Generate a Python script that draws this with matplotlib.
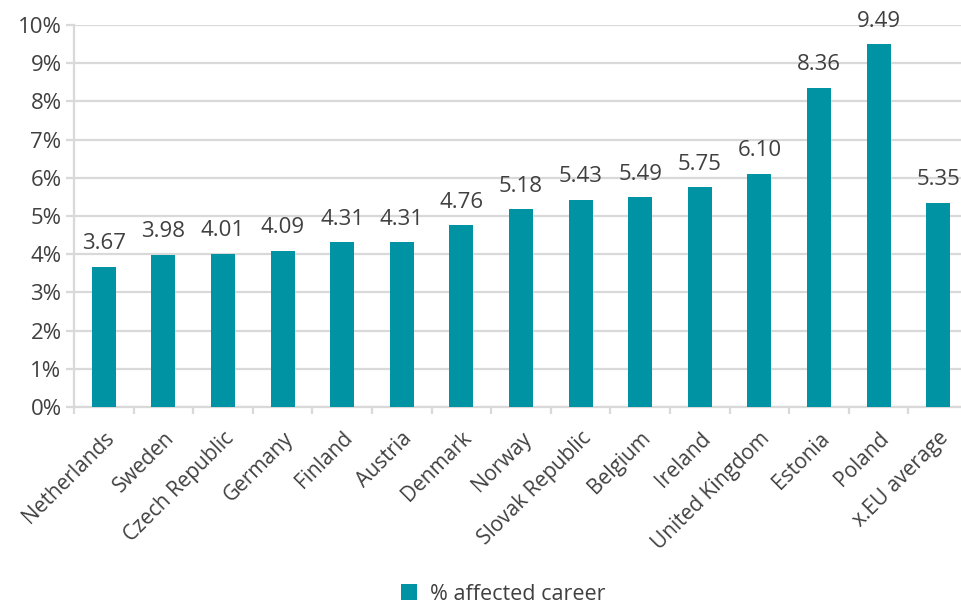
import matplotlib
matplotlib.use("Agg")
import matplotlib.pyplot as plt
import numpy as np

countries = ["Netherlands", "Sweden", "Czech Republic", "Germany", "Finland",
             "Austria", "Denmark", "Norway", "Slovak Republic", "Belgium",
             "Ireland", "United Kingdom", "Estonia", "Poland", "x.EU average"]
affected = [3.67, 3.98, 4.01, 4.09, 4.31, 4.31, 4.76, 5.18, 5.43, 5.49,
            5.75, 6.10, 8.36, 9.49, 5.35]

teal = "#0093a3"
grey_txt = "#404040"
grid_c = "#d9d9d9"

plt.rcParams["font.family"] = ["Open Sans", "DejaVu Sans"]

fig = plt.figure(figsize=(9.61, 6.05), dpi=100)
W, H = 961, 605
# axes runs past the right edge of the canvas
ax = fig.add_axes([74 / W, (H - 407) / H, 15 * 59.6 / W, 382 / H])

x = np.arange(len(countries))
bars = ax.bar(x, affected, width=0.4, color=teal, zorder=3,
              label="% affected career")

for xi, v in zip(x, affected):
    ax.annotate(f"{v:.2f}", (xi, v), xytext=(0, 9), textcoords="offset points",
                ha="center", va="bottom", fontsize=16, color=grey_txt)

ax.set_xlim(-0.5, len(countries) - 0.5)
ax.set_ylim(0, 10)
ax.set_yticks(np.arange(0, 11, 1))
ax.set_yticklabels([f"{i}%" for i in range(11)])
ax.yaxis.grid(True, color=grid_c, linewidth=1.6, zorder=0)
ax.tick_params(axis="y", length=6, width=1.6, color=grid_c, labelcolor=grey_txt,
               labelsize=16, pad=3)

# category boundary ticks
ax.set_xticks(np.arange(len(countries) + 1) - 0.5, minor=False)
ax.set_xticklabels([])
ax.set_xticks(x, minor=True)
ax.set_xticklabels(countries, minor=True, rotation=45, ha="right",
                   rotation_mode="anchor")
ax.tick_params(axis="x", which="major", length=5, width=1.6, color=grid_c)
ax.tick_params(axis="x", which="minor", length=0, pad=15,
               labelcolor=grey_txt, labelsize=15)

for side in ["top", "right"]:
    ax.spines[side].set_visible(False)
ax.spines["left"].set_color(grid_c)
ax.spines["left"].set_linewidth(1.6)
ax.spines["bottom"].set_color(grid_c)
ax.spines["bottom"].set_linewidth(1.6)

fig.legend(handles=[bars], labels=["% affected career"], loc="center",
           bbox_to_anchor=(503 / W, 1 - 594 / H), frameon=False,
           fontsize=15.5, labelcolor=grey_txt, handlelength=0.75,
           handleheight=0.75, handletextpad=0.6)

fig.savefig("out.png", dpi=100)
